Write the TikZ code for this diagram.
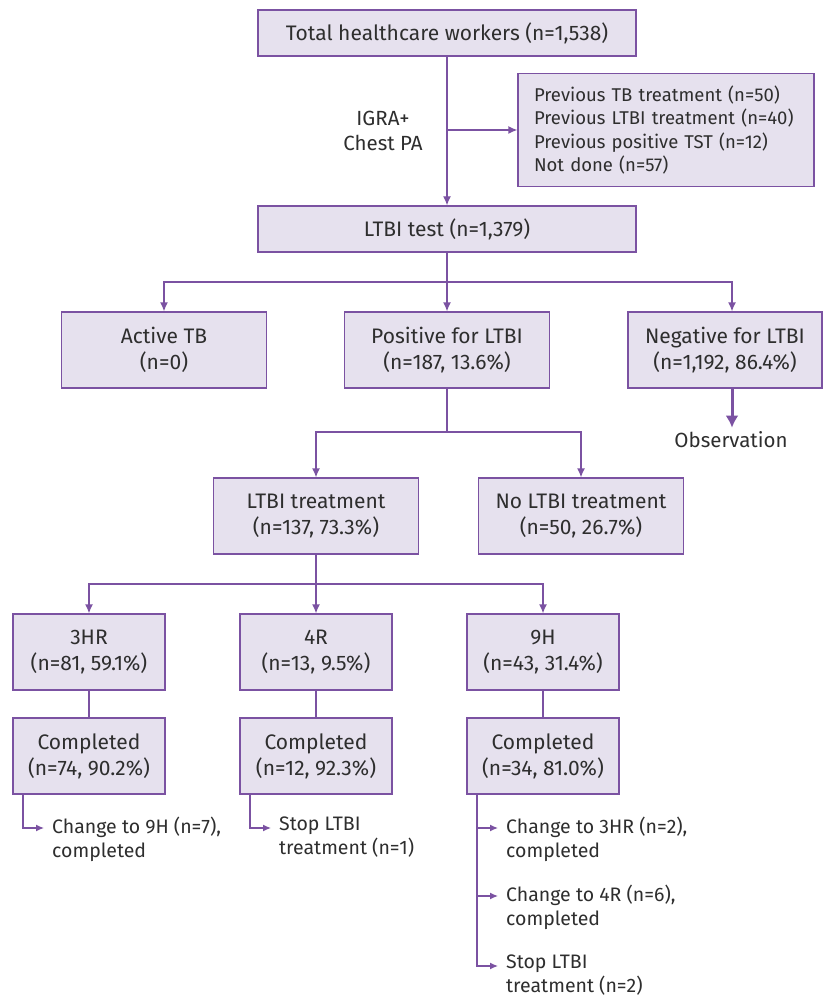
\documentclass[tikz,border=0pt]{standalone}
\usepackage{fontspec}
\setmainfont{Fira Sans}
\usetikzlibrary{arrows.meta}
\definecolor{pline}{HTML}{7B52A2}
\definecolor{pfill}{HTML}{E6E1EE}
\definecolor{ptext}{HTML}{2E2E2E}
\begin{document}
\begin{tikzpicture}[x=1pt,y=-1pt,
 box/.style={draw=pline, fill=pfill, line width=1.3pt, text=ptext, align=center, inner sep=0pt, font=\fontsize{21}{26}\selectfont},
 ar/.style={draw=pline, line width=1.3pt, -{Latex[length=9pt,width=8pt]}},
 sar/.style={draw=pline, line width=1.3pt, -{Latex[length=8pt,width=7pt]}},
 ln/.style={draw=pline, line width=1.3pt},
 lbl/.style={text=ptext, align=left, inner sep=0pt, anchor=north west, font=\fontsize{19.5}{24}\selectfont},
 wide/.style={minimum width=378pt, minimum height=46pt},
 mid/.style={minimum width=205pt, minimum height=76pt},
 sm/.style={minimum width=152pt, minimum height=76pt}]
\useasboundingbox (0,0) rectangle (822,1000);
% top
\node[box, wide] (total) at (447,33) {Total healthcare workers (n=1,538)};
\node[box, minimum width=296pt, minimum height=113pt, align=left, text width=264pt, font=\fontsize{18.5}{23.3}\selectfont] (excl) at (666,130) {Previous TB treatment (n=50)\\Previous LTBI treatment (n=40)\\Previous positive TST (n=12)\\Not done (n=57)};
\node[text=ptext, align=center, inner sep=0pt, font=\fontsize{20.5}{25}\selectfont] (igra) at (383,131) {IGRA+\\Chest PA};
\node[box, wide] (test) at (447,229) {LTBI test (n=1,379)};
\coordinate (j1) at (447,130);
\draw[ar] (total) -- (test);
\draw[ar] (j1) -- (excl.west);
% level 2
\node[box, mid] (active) at (164,350) {Active TB\\(n=0)};
\node[box, mid] (pos) at (447,350) {Positive for LTBI\\(n=187, 13.6\%)};
\node[box, minimum width=194pt, minimum height=76pt] (neg) at (725,350) {Negative for LTBI\\(n=1,192, 86.4\%)};
\coordinate (j2) at (447,282);
\draw[ln] (test) -- (j2);
\draw[ar] (j2) -| (active.north);
\draw[ar] (j2) -- (pos);
\draw[ar] (j2) -| ([xshift=7pt]neg.north);
\node[text=ptext, inner sep=0pt, font=\fontsize{20.5}{25}\selectfont] (obs) at (731,440) {Observation};
\draw[draw=pline, line width=3pt, -{Latex[length=12pt,width=13pt]}] ([xshift=7pt]neg.south) -- ++(0,39);
% level 3
\node[box, mid] (treat) at (316,516) {LTBI treatment\\(n=137, 73.3\%)};
\node[box, mid] (notreat) at (581,516) {No LTBI treatment\\(n=50, 26.7\%)};
\coordinate (j3) at (447,432);
\draw[ln] (pos) -- (j3);
\draw[ar] (j3) -| (treat.north);
\draw[ar] (j3) -| (notreat.north);
% level 4
\node[box, sm] (hr3) at (89,652) {3HR\\(n=81, 59.1\%)};
\node[box, sm] (r4) at (316,652) {4R\\(n=13, 9.5\%)};
\node[box, sm] (h9) at (543,652) {9H\\(n=43, 31.4\%)};
\coordinate (j4) at (316,584);
\draw[ln] (treat) -- (j4);
\draw[ar] (j4) -| (hr3.north);
\draw[ar] (j4) -- (r4);
\draw[ar] (j4) -| (h9.north);
% level 5
\node[box, sm] (c1) at (89,756) {Completed\\(n=74, 90.2\%)};
\node[box, sm] (c2) at (316,756) {Completed\\(n=12, 92.3\%)};
\node[box, sm] (c3) at (543,756) {Completed\\(n=34, 81.0\%)};
\draw[ln] (hr3) -- (c1);
\draw[ln] (r4) -- (c2);
\draw[ln] (h9) -- (c3);
% outcomes
\node[lbl] (o1) at (52,817) {Change to 9H (n=7),\\completed};
\node[lbl] (o2) at (279,817) {Stop LTBI\\treatment (n=1)};
\node[lbl] (o3) at (506,817) {Change to 3HR (n=2),\\completed};
\node[lbl] (o4) at (506,885) {Change to 4R (n=6),\\completed};
\node[lbl] (o5) at (506,955) {Stop LTBI\\treatment (n=2)};
\coordinate (b1) at (23,794);
\coordinate (b2) at (250,794);
\coordinate (b3) at (477,794);
\draw[sar] (b1) |- ([xshift=-8pt]o1.north west |- 0,828);
\draw[sar] (b2) |- ([xshift=-8pt]o2.north west |- 0,828);
\draw[ln] (b3) -- (477,966);
\draw[sar] (477,828) -- ([xshift=-8pt]o3.north west |- 0,828);
\draw[sar] (477,896) -- ([xshift=-8pt]o4.north west |- 0,896);
\draw[sar] (b3) |- ([xshift=-8pt]o5.north west |- 0,966);
\end{tikzpicture}
\end{document}
